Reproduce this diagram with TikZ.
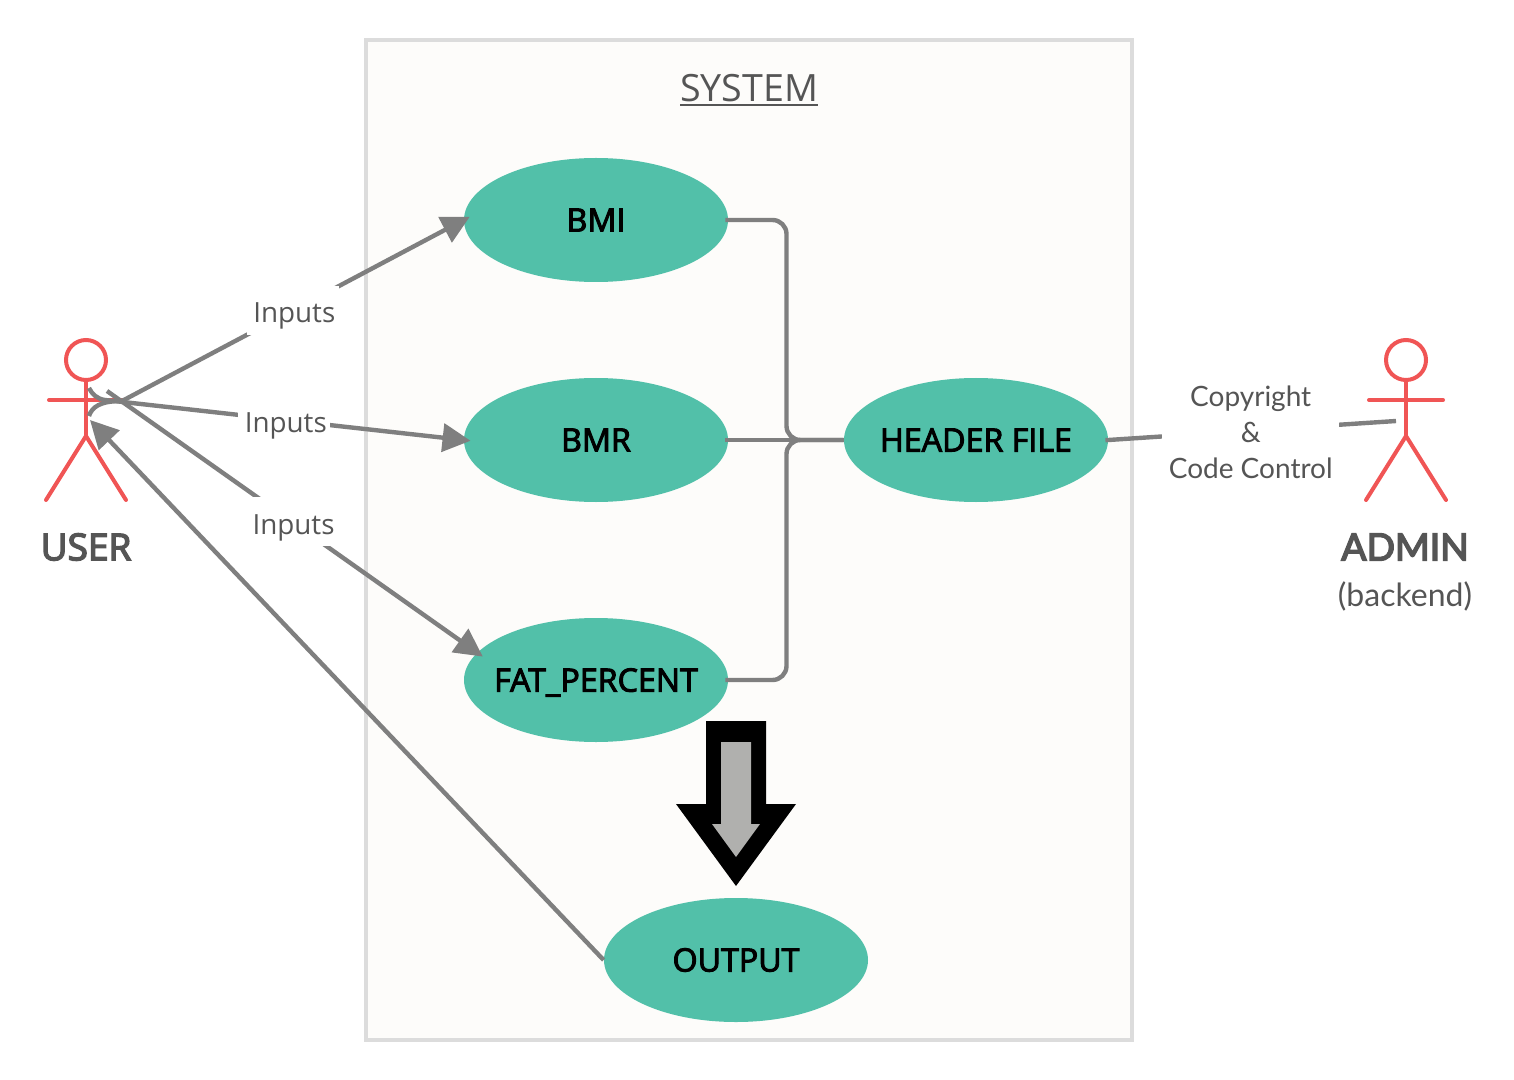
\documentclass[tikz,border=0pt]{standalone}
\usepackage{fontspec}
\usetikzlibrary{arrows.meta,shapes.geometric}
\setmainfont{Open Sans}
\newfontfamily\latofont{Lato}
\newfontfamily\ucfont[FakeBold=3]{Open Sans}
\newfontfamily\actfont[FakeBold=4]{Open Sans}
\newfontfamily\admfont[FakeBold=4]{Lato}
\definecolor{teal}{HTML}{52C0A9}
\definecolor{conn}{HTML}{7F7F7F}
\definecolor{red}{HTML}{F05555}
\definecolor{txt}{HTML}{555555}
\definecolor{sysfill}{HTML}{FDFCFA}
\definecolor{sysline}{HTML}{DCDCDC}
\definecolor{arrowgrey}{HTML}{B0B0AE}
\newcommand{\edgetext}[1]{\hspace{1.5pt}\smash{\raisebox{-6.2pt}{#1}}}
\newcommand{\widetext}[1]{\makebox[0pt]{\raisebox{0pt}[\height][0pt]{#1}}}
\newsavebox{\titlebox}
\newcommand{\thickunder}[1]{\sbox{\titlebox}{#1}\rlap{\usebox{\titlebox}}\rule[-2.6pt]{\wd\titlebox}{1.1pt}}
\tikzset{
  usecase/.style={ellipse,fill=teal,draw=none,minimum width=132pt,minimum height=62pt,inner sep=0pt,text=black,font=\ucfont\fontsize{16.1}{18}\selectfont},
  link/.style={draw=conn,line width=2.2pt},
  inlink/.style={link,shorten <=-1.5pt},
  arrowlink/.style={link,shorten >=-3.5pt,-{Triangle[length=14pt,width=14pt]}},
  edgelabel/.style={fill=white,inner sep=0pt,minimum width=46pt,minimum height=24.5pt,text=txt,font=\fontsize{13.9}{16}\selectfont},
  limb/.style={draw=red,line width=2pt,line cap=round},
  actorhead/.style={circle,draw=red,line width=2pt,minimum size=20pt,inner sep=0pt},
  actorname/.style={text=txt,inner sep=0pt}
}
\begin{document}
\begin{tikzpicture}[x=0.5pt,y=-0.5pt]
\useasboundingbox (0,0) rectangle (1514,1080);
% system
\draw[draw=sysline,fill=sysfill,line width=2pt] (366,40) rectangle (1132,1040);
\node[text=txt,inner sep=0pt,font=\fontsize{18.8}{22}\selectfont] (systitle) at (749,90) {\thickunder{SYSTEM}};
% use cases
\node[usecase] (bmi) at (596,220) {BMI};
\node[usecase] (bmr) at (596,440) {BMR};
\node[usecase] (fat) at (596,680) {\widetext{FAT\_PERCENT}};
\node[usecase] (hdr) at (976,440) {\widetext{HEADER FILE}};
\node[usecase] (out) at (736,960) {OUTPUT};
% big arrow
\fill[black] (706,721) -- (766,721) -- (766,804) -- (796,804) -- (736,886) -- (676,804) -- (706,804) -- cycle;
\fill[arrowgrey] (721,742) -- (751,742) -- (751,824) -- (760,824) -- (736,857) -- (712,824) -- (721,824) -- cycle;
% actors
\node[actorhead] (uhead) at (86,360) {};
\coordinate (uhip) at (86,436);
\coordinate (ularm) at (49,400);
\coordinate (urarm) at (122,400);
\coordinate (ulleg) at (46,500);
\coordinate (urleg) at (126,500);
\draw[limb] (uhead.south) -- (uhip);
\draw[limb] (ularm) -- (urarm);
\draw[limb] (ulleg) -- (uhip) -- (urleg);
\node[actorname,font=\actfont\fontsize{18.5}{20}\selectfont] (uname) at (86,547) {USER};
\node[actorhead] (ahead) at (1406,360) {};
\coordinate (ahip) at (1406,436);
\coordinate (alarm) at (1369,400);
\coordinate (ararm) at (1443,400);
\coordinate (alleg) at (1366,500);
\coordinate (arleg) at (1446,500);
\draw[limb] (ahead.south) -- (ahip);
\draw[limb] (alarm) -- (ararm);
\draw[limb] (alleg) -- (ahip) -- (arleg);
\node[actorname,font=\admfont\fontsize{18.7}{22}\selectfont] (aname) at (1405,547) {ADMIN};
\node[actorname,font=\latofont\fontsize{16}{18}\selectfont] (asub) at (1405,596) {(backend)};
% elbow connectors
\coordinate (jtop) at (786.5,300);
\coordinate (jbot) at (786.5,560);
\draw[inlink,rounded corners=7pt] (bmi.east) -| (jtop) |- (hdr.west);
\draw[inlink,rounded corners=7pt] (fat.east) -| (jbot) |- (hdr.west);
\draw[inlink] (bmr.east) -- (hdr.west);
% user connectors
\coordinate (ua) at (89,416);
\coordinate (ub) at (89,388);
\coordinate (uc) at (107,391);
\coordinate (ud) at (90,420);
\coordinate (ue) at (122,401);
\coordinate (uf) at (105,400);
\draw[link] (ua) .. controls (92,407) and (100,401) .. (ue);
\draw[arrowlink] (ue) -- node[edgelabel,pos=0.5]{\edgetext{Inputs}} (bmi.west);
\draw[link] (ub) .. controls (92,394) and (97,399) .. (uf);
\draw[arrowlink] (uf) -- node[edgelabel,pos=0.5]{\edgetext{Inputs}} (bmr.west);
\draw[arrowlink] (uc) -- node[edgelabel,pos=0.5]{\edgetext{Inputs}} (fat.167);
\draw[arrowlink,shorten >=0pt] (out.west) -- (ud);
% admin connector
\coordinate (ag) at (1396,421);
\draw[inlink] (hdr.east) -- node[edgelabel,pos=0.5,xshift=-0.75pt,yshift=-1pt,minimum width=88.5pt,minimum height=60pt,align=center,font=\latofont\fontsize{14}{18}\selectfont]{Copyright\\\&\\Code Control} (ag);
\end{tikzpicture}
\end{document}
